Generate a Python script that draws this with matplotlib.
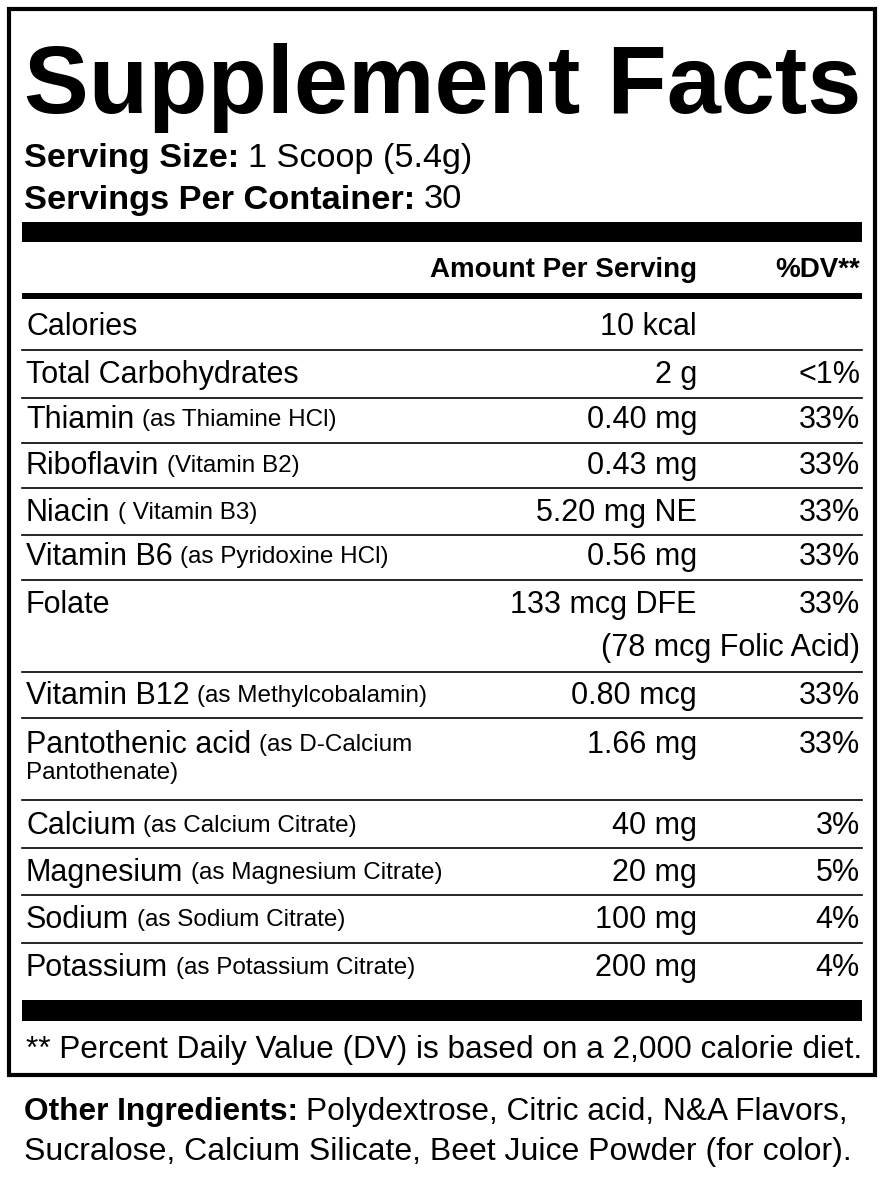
import matplotlib
matplotlib.use("Agg")
import matplotlib.pyplot as plt

# label content
names = ["Calories", "Total Carbohydrates", "Thiamin", "Riboflavin", "Niacin",
         "Vitamin B6", "Folate", "Vitamin B12", "Pantothenic acid", "Calcium",
         "Magnesium", "Sodium", "Potassium"]
sources = ["", "", "(as Thiamine HCl)", "(Vitamin B2)", "( Vitamin B3)",
           "(as Pyridoxine HCl)", "", "(as Methylcobalamin)", "(as D-Calcium",
           "(as Calcium Citrate)", "(as Magnesium Citrate)", "(as Sodium Citrate)",
           "(as Potassium Citrate)"]
amounts = ["10 kcal", "2 g", "0.40 mg", "0.43 mg", "5.20 mg NE", "0.56 mg",
           "133 mcg DFE", "0.80 mcg", "1.66 mg", "40 mg", "20 mg", "100 mg", "200 mg"]
dvs = ["", "<1%", "33%", "33%", "33%", "33%", "33%", "33%", "33%", "3%", "5%", "4%", "4%"]
extra_lines = {6: ("", "(78 mcg Folic Acid)"), 8: ("Pantothenate)", "")}
row_y = [327, 375, 420, 466, 513, 557, 605, 696, 745, 826, 873, 920, 968]
sep_y = [350, 398, 443, 488, 535, 580, 672, 718, 800, 848, 895, 943]

W, H = 884, 1188
fig = plt.figure(figsize=(W / 100, H / 100), dpi=100)
ax = fig.add_axes([0, 0, 1, 1])
ax.set_xlim(0, W)
ax.set_ylim(H, 0)
ax.axis("off")
plt.rcParams["font.family"] = ["Liberation Sans", "DejaVu Sans"]
r = fig.canvas.get_renderer()

MAIN, SMALL = 22, 17.5

# outer box
ax.add_patch(plt.Rectangle((9, 9), 866, 1066, fill=False, lw=3, ec="black"))


def fitted(x, y, s, size, right, **kw):
    t = ax.text(x, y, s, fontsize=size, va="center", **kw)
    w = t.get_window_extent(r).width
    t.set_fontsize(size * (right - x) / w)
    return t


def parts(x, y, items, right=None):
    # items: (text, size, weight); placed one after another
    texts = []
    cx = x
    for s, size, wt in items:
        t = ax.text(cx, y, s, fontsize=size, fontweight=wt, va="center")
        cx = t.get_window_extent(r).x1 + size * 0.35
        texts.append(t)
    if right is not None:
        k = (right - x) / (texts[-1].get_window_extent(r).x1 - x)
        cx = x
        for t, (s, size, wt) in zip(texts, items):
            t.set_fontsize(size * k)
            t.set_x(cx)
            cx = t.get_window_extent(r).x1 + size * k * 0.35
    return texts


t = ax.text(24, 113, "Supplement Facts", fontsize=80, fontweight="bold", va="baseline")
t.set_fontsize(80 * 838 / t.get_window_extent(r).width)

parts(24, 158, [("Serving Size:", 19, "bold"), ("1 Scoop (5.4g)", 19, "normal")], right=472)
parts(24, 200, [("Servings Per Container:", 19, "bold"), ("30", 19, "normal")], right=462)

ax.fill_between([22, 862], 222, 242, color="black", lw=0)
ax.text(697, 270, "Amount Per Serving", fontsize=20, fontweight="bold", va="center", ha="right")
ax.text(860, 270, "%DV**", fontsize=20, fontweight="bold", va="center", ha="right")
ax.fill_between([22, 862], 293, 299, color="black", lw=0)

for i, (n, s, a, d, y) in enumerate(zip(names, sources, amounts, dvs, row_y)):
    items = [(n, MAIN, "normal")] + ([(s, SMALL, "normal")] if s else [])
    parts(26, y, items)
    ax.text(697, y, a, fontsize=MAIN, va="center", ha="right")
    ax.text(860, y, d, fontsize=MAIN, va="center", ha="right")
    if i in extra_lines:
        left, right = extra_lines[i]
        if left:
            ax.text(26, y + 28, left, fontsize=SMALL, va="center")
        if right:
            ax.text(860, y + 43, right, fontsize=MAIN, va="center", ha="right")
for y in sep_y:
    ax.plot([22, 862], [y, y], color="black", lw=1.2)

ax.fill_between([22, 862], 1000, 1021, color="black", lw=0)
fitted(26, 1050, "** Percent Daily Value (DV) is based on a 2,000 calorie diet.", 20, 860)

parts(24, 1112, [("Other Ingredients:", 19, "bold"),
                 ("Polydextrose, Citric acid, N&A Flavors,", 19, "normal")], right=848)
fitted(24, 1152, "Sucralose, Calcium Silicate, Beet Juice Powder (for color).", 19, 850)

fig.savefig("out.png", dpi=100, facecolor="white")
